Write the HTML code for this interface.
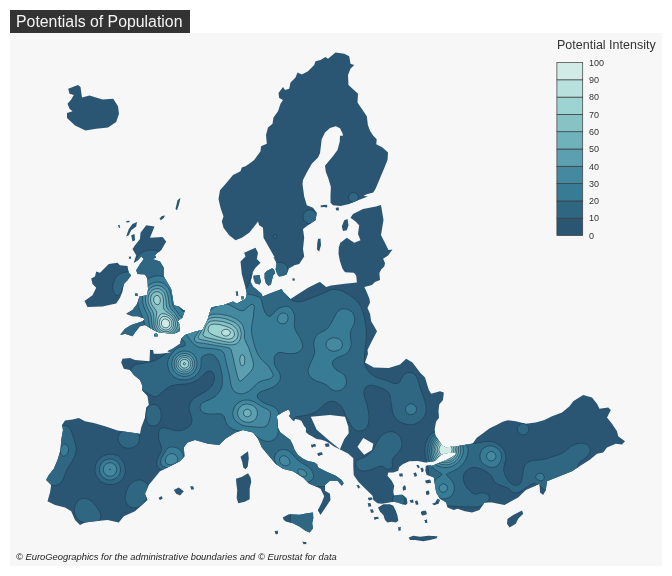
<!DOCTYPE html>
<html><head><meta charset="utf-8"><title>Potentials of Population</title>
<style>
html,body{margin:0;padding:0;background:#fff}
body{width:672px;height:576px;position:relative;overflow:hidden;font-family:"Liberation Sans",sans-serif}
#panel{position:absolute;left:10px;top:33px;width:652px;height:533px;background:#f7f7f7}
#title{position:absolute;left:10px;top:10px;width:180px;height:23px;background:#333;color:#f4f4f4;font-size:15.85px;line-height:23px;text-indent:6px;white-space:nowrap}
svg text{font-family:"Liberation Sans",sans-serif}
</style></head><body>
<div id="panel"></div>
<div id="title">Potentials of Population</div>
<svg width="672" height="576" viewBox="0 0 672 576" style="position:absolute;left:0;top:0">
<defs><clipPath id="land"><path clip-rule="evenodd" d="M67.0,113.0 L67.0,118.0 L75.0,125.5 L85.5,130.5 L96.2,128.8 L108.0,127.5 L116.2,122.0 L119.0,113.8 L118.0,106.2 L113.2,98.8 L102.5,99.5 L89.5,95.5 L82.0,97.5 L80.5,87.0 L78.0,85.0 L68.2,88.8 L69.5,93.8 L73.8,95.0 L71.2,99.5 L67.5,103.8 L69.5,108.8 L72.5,111.2Z M180.5,197.8 L177.5,200.2 L175.5,209.0 L177.0,210.2 L179.0,204.5Z M165.0,215.5 L162.0,216.0 L159.5,218.5 L160.8,220.2 L163.8,218.0Z M126.2,221.0 L126.5,222.5 L129.5,222.2 L129.5,220.8Z M118.0,225.2 L119.0,228.0 L120.2,227.5 L119.5,224.8Z M128.8,235.2 L131.2,230.2 L136.2,226.5 L137.0,222.0 L132.5,224.0 L128.8,229.0 L126.2,236.5Z M131.2,235.2 L132.5,241.5 L135.0,240.2 L134.5,234.0Z M129.8,256.8 L128.8,256.5 L129.0,257.8 L129.1,258.9 L129.9,258.7 L130.6,258.9 L131.0,257.8 L131.0,256.6Z M141.2,256.5 L143.8,259.0 L140.0,264.0 L136.2,270.2 L137.5,274.0 L145.0,274.5 L147.5,279.0 L148.0,289.0 L147.5,295.2 L139.5,296.5 L137.5,302.8 L135.0,307.8 L136.2,305.0 L132.5,310.0 L126.2,313.8 L132.5,316.2 L137.5,316.2 L145.0,318.8 L142.5,321.2 L131.2,325.0 L125.0,328.8 L120.0,335.0 L125.0,333.8 L132.5,336.2 L135.0,332.5 L140.0,326.2 L145.0,325.0 L152.5,329.5 L157.5,332.0 L165.0,333.0 L173.8,333.8 L179.5,331.2 L180.0,325.0 L177.5,321.2 L182.5,317.5 L185.0,310.0 L183.8,310.2 L178.8,306.5 L173.8,305.2 L172.5,296.5 L171.2,289.0 L167.5,282.8 L163.8,276.5 L163.8,267.8 L160.0,261.5 L152.5,259.0 L156.2,257.8 L155.0,255.2 L157.5,252.8 L161.2,250.2 L166.2,241.5 L162.5,237.0 L150.0,237.8 L154.5,226.5 L146.2,225.2 L140.5,232.8 L140.0,239.0 L135.0,245.2 L132.5,249.0 L136.2,255.2 L133.8,262.8 L138.0,260.2Z M102.5,306.5 L116.2,303.5 L120.0,297.8 L122.5,291.5 L123.8,284.0 L127.5,280.2 L131.2,275.2 L128.8,272.8 L127.5,266.0 L120.0,265.2 L117.5,262.8 L108.8,264.0 L100.0,272.8 L96.2,271.5 L95.0,276.5 L91.2,278.5 L92.5,284.0 L96.2,287.8 L92.5,295.2 L84.5,301.0 L87.5,307.0Z M235.7,291.6 L236.3,293.8 L236.4,295.9 L237.5,295.5 L238.2,295.4 L238.0,293.6 L237.8,291.4 L236.8,291.7Z M134.8,293.5 L135.2,294.8 L135.2,295.8 L136.5,296.1 L137.9,295.8 L137.5,294.8 L137.4,293.3 L136.2,293.5Z M241.0,296.4 L241.6,298.0 L241.7,299.7 L242.9,299.1 L244.3,299.3 L243.6,297.8 L243.4,296.2 L242.3,296.5Z M154.3,333.9 L154.2,335.0 L154.5,336.5 L156.0,336.2 L157.4,336.5 L157.9,335.0 L157.3,333.9 L156.0,333.6Z M180.0,343.8 L172.5,348.8 L167.5,351.2 L171.2,352.5 L160.0,353.8 L153.8,353.8 L153.0,350.0 L150.0,350.0 L149.5,361.2 L135.0,360.0 L130.0,358.0 L122.5,358.8 L121.2,362.5 L123.8,368.8 L130.0,370.0 L133.8,375.0 L140.0,380.0 L142.5,386.2 L142.0,390.0 L147.5,396.2 L148.8,405.0 L146.2,407.5 L145.0,417.5 L141.2,427.5 L140.0,433.8 L127.5,432.0 L117.5,430.5 L105.0,426.2 L93.8,423.0 L85.0,421.2 L78.8,418.0 L72.5,419.5 L65.0,420.5 L62.0,425.0 L63.0,430.0 L61.2,440.0 L60.5,450.0 L57.5,460.0 L53.8,468.8 L48.8,475.0 L46.2,480.0 L51.2,485.0 L50.0,492.5 L47.5,501.2 L55.0,505.0 L65.0,507.5 L71.2,511.2 L75.0,520.0 L80.0,525.0 L85.0,522.5 L95.0,521.2 L107.5,520.0 L118.8,522.5 L123.8,516.2 L135.0,511.2 L147.5,500.0 L145.0,493.8 L148.8,485.0 L160.0,471.2 L170.0,466.2 L180.0,461.2 L184.5,456.2 L183.8,447.5 L187.5,442.5 L195.0,440.0 L208.0,443.8 L219.2,445.0 L225.5,438.8 L235.5,432.5 L243.0,430.0 L253.0,432.5 L258.0,438.8 L261.8,447.5 L269.2,456.2 L275.5,463.8 L283.0,468.8 L293.0,471.2 L303.0,477.5 L309.2,483.8 L315.5,486.2 L320.5,488.8 L324.2,496.2 L321.8,502.5 L318.0,510.0 L320.5,515.0 L325.5,507.5 L330.5,500.0 L330.0,493.8 L325.0,490.8 L325.0,485.0 L330.0,480.8 L337.5,480.8 L341.7,485.8 L343.7,483.3 L341.7,480.0 L335.8,475.8 L326.7,471.7 L318.3,467.5 L316.7,462.5 L317.8,468.0 L316.5,464.1 L314.0,462.2 L307.8,461.0 L302.8,458.5 L297.8,454.8 L294.6,449.8 L292.8,444.8 L290.2,439.8 L285.2,436.0 L280.2,432.2 L277.8,427.2 L277.8,421.0 L276.5,416.0 L282.8,412.2 L287.8,409.8 L289.6,410.4 L290.2,414.1 L289.0,416.0 L292.1,419.8 L294.0,421.0 L295.2,419.1 L299.0,419.8 L301.5,421.0 L304.0,426.0 L305.9,427.9 L305.9,432.2 L309.0,434.8 L311.5,436.0 L316.5,439.1 L321.5,439.8 L325.2,441.0 L329.0,442.9 L334.0,446.6 L339.0,449.1 L348.0,453.5 L353.3,458.3 L353.3,466.7 L353.7,475.0 L358.3,481.7 L363.3,486.7 L369.2,492.5 L372.5,495.8 L373.3,500.0 L377.5,503.3 L381.7,503.7 L386.7,503.0 L393.3,501.7 L397.5,502.5 L402.5,504.2 L405.8,505.0 L407.5,503.3 L406.7,498.3 L402.5,494.7 L397.5,495.0 L394.2,495.8 L393.3,491.7 L394.2,485.8 L391.7,480.8 L387.5,475.8 L388.3,472.5 L393.3,472.5 L398.3,470.8 L399.1,467.2 L402.7,464.3 L409.3,461.3 L417.7,461.0 L425.2,462.5 L434.7,461.0 L437.5,458.0 L441.2,454.5 L446.0,453.2 L451.2,452.5 L453.6,452.6 L456.8,453.5 L452.7,456.8 L446.0,460.2 L439.3,462.7 L433.5,465.2 L431.3,465.9 L430.8,465.3 L425.8,465.8 L425.3,470.8 L426.7,475.0 L428.9,475.6 L433.8,477.5 L435.0,485.0 L436.2,492.5 L440.0,498.8 L446.2,502.5 L447.5,507.5 L453.8,510.0 L457.5,508.8 L465.0,511.2 L472.0,512.5 L479.5,510.0 L484.5,502.5 L492.0,502.5 L504.5,505.0 L518.2,497.5 L525.8,490.0 L534.5,486.2 L539.5,483.8 L540.0,492.5 L543.2,495.0 L545.8,490.0 L547.0,481.2 L559.5,476.2 L572.0,471.2 L579.5,466.2 L589.5,460.0 L597.0,453.8 L603.2,452.5 L607.0,447.5 L615.8,443.8 L622.0,444.5 L625.0,441.2 L618.2,436.2 L617.0,431.2 L612.0,423.8 L607.0,417.5 L610.8,410.0 L608.2,407.5 L599.5,408.8 L597.0,403.8 L592.0,397.5 L583.2,395.0 L573.2,401.2 L569.5,406.2 L562.0,412.5 L552.0,416.2 L544.5,420.0 L535.8,422.5 L525.8,423.8 L515.8,421.2 L508.0,420.2 L502.7,421.8 L496.0,425.2 L489.3,428.5 L482.7,433.5 L476.8,437.7 L472.7,443.5 L462.7,445.2 L454.3,446.8 L452.5,447.1 L452.0,446.5 L446.0,447.7 L441.8,445.2 L438.5,440.2 L435.2,435.2 L434.7,429.3 L436.0,421.8 L439.0,417.7 L438.5,411.0 L439.3,404.3 L439.4,404.3 L443.0,400.0 L443.8,392.5 L440.0,391.2 L431.2,393.8 L428.8,390.0 L425.0,377.5 L420.0,372.5 L412.5,362.5 L406.2,358.8 L400.0,364.5 L388.8,368.0 L373.8,367.5 L365.0,362.5 L368.0,353.8 L367.5,350.0 L371.2,342.5 L377.0,331.2 L371.2,321.2 L370.0,313.8 L367.5,308.1 L370.0,302.5 L369.4,298.8 L366.9,292.5 L364.4,286.9 L371.9,285.0 L375.0,281.9 L380.0,280.0 L379.4,273.1 L381.2,269.4 L384.4,266.2 L385.0,263.1 L383.1,258.8 L388.1,255.6 L392.5,249.4 L388.5,250.0 L381.0,235.0 L383.5,220.0 L381.0,205.0 L376.0,206.5 L363.0,209.0 L353.0,214.0 L350.5,217.8 L355.5,221.5 L359.2,225.2 L358.0,234.0 L360.5,240.2 L354.2,242.8 L346.8,237.8 L340.5,242.8 L341.2,240.0 L338.8,247.5 L338.5,253.8 L340.0,261.2 L342.5,268.8 L345.0,272.2 L353.8,272.8 L356.2,275.6 L356.9,282.5 L345.0,283.8 L331.2,285.6 L326.2,286.9 L320.0,281.9 L318.0,282.8 L308.0,287.8 L290.5,299.0 L283.0,291.5 L281.8,289.0 L271.8,292.8 L262.5,296.5 L261.8,294.0 L253.0,286.5 L250.5,281.5 L251.8,276.5 L253.0,271.5 L255.5,267.8 L260.5,262.8 L256.8,259.0 L258.0,252.8 L255.5,247.8 L244.2,252.8 L245.5,256.5 L240.5,261.5 L241.8,274.0 L245.5,287.8 L246.8,294.0 L245.5,299.0 L236.8,303.5 L233.0,301.5 L223.0,305.2 L215.5,306.5 L211.2,307.5 L207.5,320.0 L202.5,330.0 L196.2,331.2 L185.0,335.0 L181.2,338.8Z M345.0,416.7 L348.3,426.7 L348.7,433.3 L344.2,439.2 L341.7,445.0 L340.0,449.3 L330.0,441.3 L316.7,429.7 L310.8,416.7 L330.0,415.0Z M363.3,438.0 L373.3,443.7 L372.0,450.0 L364.2,454.7 L360.0,450.0 L357.5,446.7Z M242.2,461.7 L243.3,467.5 L245.5,469.2 L247.7,466.7 L248.8,458.3 L248.0,451.3 L240.5,456.7Z M190.1,486.3 L190.8,487.9 L191.4,489.7 L192.7,489.5 L194.0,489.2 L193.6,487.6 L193.1,486.2 L191.5,486.2Z M251.3,481.7 L250.5,477.5 L248.0,473.3 L242.2,476.7 L236.0,478.7 L236.3,483.3 L237.2,490.0 L236.7,498.3 L238.3,503.3 L244.7,501.7 L249.7,499.2 L249.7,488.3Z M183.8,491.2 L178.8,487.5 L173.8,490.0 L176.2,493.8 L180.0,495.5Z M158.8,497.7 L159.0,498.9 L160.1,500.1 L161.3,499.2 L162.5,498.9 L162.4,497.8 L161.8,496.3 L160.3,496.7Z M235.5,240.2 L241.8,237.8 L249.2,232.8 L254.2,226.5 L258.0,221.5 L259.2,225.2 L263.0,227.8 L263.5,237.8 L269.2,247.8 L274.7,257.5 L273.4,257.0 L276.5,263.2 L275.6,269.5 L277.1,273.9 L279.0,276.6 L282.8,276.0 L286.5,274.5 L289.0,268.2 L294.0,265.8 L293.4,265.5 L299.2,264.0 L304.2,256.5 L303.0,249.0 L304.2,237.8 L303.0,229.0 L308.0,225.2 L315.5,220.2 L316.8,212.8 L313.0,207.8 L306.8,205.2 L304.2,196.5 L302.5,184.0 L303.0,180.0 L306.8,172.5 L311.8,163.8 L318.0,157.5 L320.0,153.3 L320.8,146.7 L321.7,139.2 L325.0,132.5 L330.0,128.0 L335.8,126.3 L340.0,128.3 L342.5,133.3 L343.0,135.8 L340.0,135.8 L339.7,141.7 L337.5,150.0 L332.5,156.7 L328.3,161.7 L325.0,165.8 L325.8,171.7 L328.3,178.3 L330.8,186.7 L330.8,196.0 L330.0,189.0 L330.5,196.5 L330.5,202.8 L333.0,205.2 L340.5,206.0 L349.2,204.0 L358.0,200.2 L368.0,196.5 L363.3,196.0 L366.7,194.2 L373.3,192.5 L375.8,188.3 L380.0,178.3 L384.2,168.3 L387.5,160.0 L388.0,152.5 L382.5,147.5 L376.3,144.2 L376.7,139.2 L373.3,135.8 L370.0,130.8 L367.9,125.1 L366.8,116.2 L357.5,102.5 L358.0,93.8 L348.5,85.0 L348.0,75.0 L350.5,68.8 L354.2,65.0 L350.5,63.8 L349.2,56.2 L344.2,53.8 L335.5,52.5 L328.0,58.8 L325.5,57.0 L320.5,60.0 L315.5,61.2 L314.2,65.0 L308.0,71.2 L301.8,74.5 L297.5,72.5 L295.5,77.5 L290.5,82.5 L289.2,88.8 L285.0,90.0 L283.0,87.0 L278.5,93.0 L279.2,98.0 L283.0,100.0 L280.5,103.8 L278.0,111.2 L273.5,117.5 L272.5,123.8 L268.0,127.5 L266.0,135.0 L266.8,143.8 L261.0,146.2 L260.5,151.2 L254.2,160.0 L249.2,163.8 L245.5,166.2 L241.8,167.5 L240.5,171.2 L233.0,175.0 L225.5,184.0 L220.0,190.2 L218.5,199.0 L220.5,207.8 L223.5,216.5 L221.8,221.5 L223.5,227.8 L229.2,235.2Z M320.5,205.5 L320.8,206.2 L320.8,207.3 L323.8,207.0 L326.8,207.4 L327.5,206.1 L326.6,204.8 L323.6,204.9Z M335.8,208.0 L335.8,209.0 L336.2,210.3 L337.5,210.4 L338.5,210.7 L338.9,209.1 L338.7,207.5 L337.2,207.6Z M343.0,231.0 L346.8,230.2 L348.5,225.2 L347.5,219.0 L344.2,220.2 L341.8,226.5Z M317.0,249.5 L319.2,251.5 L321.0,245.2 L320.5,238.5 L318.0,239.0 L317.2,244.0Z M274.0,269.5 L272.1,268.2 L267.1,270.8 L264.6,273.2 L264.6,278.2 L265.9,283.2 L268.4,285.8 L270.9,284.5 L272.1,279.5 L273.4,275.1 L275.2,273.2Z M292.2,278.6 L292.4,279.6 L292.9,281.0 L293.9,280.6 L295.1,280.3 L294.5,279.1 L294.3,277.9 L293.3,278.5Z M255.2,283.2 L259.6,284.5 L260.9,282.0 L259.6,275.1 L253.4,275.8 L253.8,279.5Z M326.5,443.6 L324.5,444.2 L325.6,445.7 L325.6,447.1 L327.4,446.7 L329.5,446.5 L329.3,444.9 L328.6,443.3Z M310.9,444.7 L311.5,445.9 L311.8,447.4 L313.7,446.8 L316.0,446.4 L315.7,445.1 L315.1,443.8 L312.9,444.5Z M317.7,453.2 L317.7,454.5 L318.1,455.7 L320.3,455.2 L322.6,454.8 L322.5,453.5 L321.8,452.2 L319.5,452.6Z M356.3,485.0 L357.4,486.8 L358.2,488.7 L359.0,487.8 L360.5,487.5 L359.4,486.2 L358.5,484.6 L357.7,485.2Z M368.0,497.8 L368.2,499.3 L369.1,500.5 L370.8,499.9 L372.5,499.6 L372.4,498.5 L371.9,497.5 L369.8,497.6Z M367.6,503.5 L368.3,505.3 L368.3,506.9 L369.6,506.5 L371.2,506.5 L370.9,504.6 L370.6,503.2 L368.9,503.0Z M369.8,509.6 L370.7,511.2 L370.9,512.7 L372.5,512.8 L373.9,512.2 L373.2,510.5 L372.8,509.2 L371.4,509.5Z M376.0,516.9 L373.8,517.2 L374.0,518.6 L374.7,519.9 L376.6,519.0 L378.7,519.0 L378.4,517.7 L378.2,516.8Z M312.2,523.3 L313.3,518.3 L313.0,512.5 L307.2,513.3 L299.7,514.7 L288.8,514.2 L282.7,517.5 L283.8,520.0 L286.3,521.7 L293.0,523.3 L299.7,526.7 L305.5,530.8 L309.7,532.5 L313.0,528.3Z M274.7,530.9 L275.1,532.8 L275.7,534.2 L276.9,534.3 L277.8,533.8 L278.1,532.3 L277.5,530.6 L276.2,531.0Z M302.4,541.5 L302.9,542.9 L303.7,544.3 L305.0,544.1 L306.5,544.2 L306.3,543.0 L306.2,541.9 L304.3,542.0Z M416.2,465.2 L417.4,466.9 L418.0,468.5 L418.8,467.7 L419.8,467.5 L419.3,466.3 L418.5,465.0 L417.4,465.0Z M420.3,468.2 L421.1,470.0 L421.4,472.2 L422.8,471.9 L423.7,470.8 L423.4,469.1 L422.4,467.6 L421.5,468.1Z M413.2,473.1 L414.2,475.1 L414.4,476.8 L415.9,476.5 L417.1,475.8 L416.5,474.1 L416.0,472.3 L414.6,473.1Z M399.3,473.6 L399.2,475.2 L400.0,476.7 L401.5,476.3 L403.1,476.4 L402.6,474.8 L402.5,473.3 L400.9,473.6Z M425.2,480.4 L425.5,482.2 L426.7,483.4 L428.8,483.1 L431.2,482.7 L430.5,481.1 L430.0,479.7 L427.4,479.9Z M402.6,487.4 L402.8,489.2 L403.4,491.0 L404.6,490.0 L405.8,490.0 L405.9,487.5 L405.1,485.3 L403.8,485.8Z M425.9,491.6 L426.0,493.4 L426.5,495.1 L427.9,494.7 L429.1,494.6 L429.3,492.7 L428.7,490.8 L427.3,490.7Z M409.5,500.2 L410.2,501.6 L410.8,502.7 L412.3,502.8 L413.7,502.4 L413.3,500.9 L413.2,499.5 L411.3,500.0Z M432.0,503.7 L434.2,505.3 L438.3,503.7 L440.0,500.0 L437.5,498.7 L435.3,502.5Z M414.9,501.5 L415.5,503.2 L415.9,504.8 L417.4,504.8 L418.5,504.3 L418.0,502.6 L417.5,500.7 L416.2,500.6Z M420.9,511.7 L421.0,513.6 L422.1,515.5 L424.5,515.2 L426.9,513.9 L426.6,512.4 L425.9,510.7 L423.3,510.7Z M397.5,515.8 L395.8,510.8 L393.3,505.8 L390.0,504.2 L383.3,504.2 L378.0,507.5 L380.0,511.7 L383.3,515.0 L385.0,520.0 L387.5,522.5 L391.7,521.7 L395.8,522.5 L398.3,520.8Z M507.5,518.8 L507.0,523.8 L509.5,527.5 L515.8,523.8 L518.2,518.8 L523.2,513.8 L522.0,510.5 L513.2,515.0Z M424.1,519.9 L425.0,521.6 L425.1,523.1 L426.5,522.9 L427.5,522.5 L427.1,521.0 L427.1,518.9 L425.7,519.9Z M398.1,526.9 L398.3,529.0 L398.6,531.0 L399.9,530.5 L400.9,530.3 L400.6,528.5 L400.9,526.7 L399.5,527.3Z M420.0,536.7 L413.3,535.8 L408.7,537.5 L410.0,540.0 L415.0,540.0 L423.3,541.3 L430.0,540.0 L436.7,538.3 L437.5,536.3 L428.3,535.8Z "/></clipPath></defs>
<path fill="#2a5674" fill-rule="evenodd" d="M67.0,113.0 L67.0,118.0 L75.0,125.5 L85.5,130.5 L96.2,128.8 L108.0,127.5 L116.2,122.0 L119.0,113.8 L118.0,106.2 L113.2,98.8 L102.5,99.5 L89.5,95.5 L82.0,97.5 L80.5,87.0 L78.0,85.0 L68.2,88.8 L69.5,93.8 L73.8,95.0 L71.2,99.5 L67.5,103.8 L69.5,108.8 L72.5,111.2Z M180.5,197.8 L177.5,200.2 L175.5,209.0 L177.0,210.2 L179.0,204.5Z M165.0,215.5 L162.0,216.0 L159.5,218.5 L160.8,220.2 L163.8,218.0Z M126.2,221.0 L126.5,222.5 L129.5,222.2 L129.5,220.8Z M118.0,225.2 L119.0,228.0 L120.2,227.5 L119.5,224.8Z M128.8,235.2 L131.2,230.2 L136.2,226.5 L137.0,222.0 L132.5,224.0 L128.8,229.0 L126.2,236.5Z M131.2,235.2 L132.5,241.5 L135.0,240.2 L134.5,234.0Z M129.8,256.8 L128.8,256.5 L129.0,257.8 L129.1,258.9 L129.9,258.7 L130.6,258.9 L131.0,257.8 L131.0,256.6Z M141.2,256.5 L143.8,259.0 L140.0,264.0 L136.2,270.2 L137.5,274.0 L145.0,274.5 L147.5,279.0 L148.0,289.0 L147.5,295.2 L139.5,296.5 L137.5,302.8 L135.0,307.8 L136.2,305.0 L132.5,310.0 L126.2,313.8 L132.5,316.2 L137.5,316.2 L145.0,318.8 L142.5,321.2 L131.2,325.0 L125.0,328.8 L120.0,335.0 L125.0,333.8 L132.5,336.2 L135.0,332.5 L140.0,326.2 L145.0,325.0 L152.5,329.5 L157.5,332.0 L165.0,333.0 L173.8,333.8 L179.5,331.2 L180.0,325.0 L177.5,321.2 L182.5,317.5 L185.0,310.0 L183.8,310.2 L178.8,306.5 L173.8,305.2 L172.5,296.5 L171.2,289.0 L167.5,282.8 L163.8,276.5 L163.8,267.8 L160.0,261.5 L152.5,259.0 L156.2,257.8 L155.0,255.2 L157.5,252.8 L161.2,250.2 L166.2,241.5 L162.5,237.0 L150.0,237.8 L154.5,226.5 L146.2,225.2 L140.5,232.8 L140.0,239.0 L135.0,245.2 L132.5,249.0 L136.2,255.2 L133.8,262.8 L138.0,260.2Z M102.5,306.5 L116.2,303.5 L120.0,297.8 L122.5,291.5 L123.8,284.0 L127.5,280.2 L131.2,275.2 L128.8,272.8 L127.5,266.0 L120.0,265.2 L117.5,262.8 L108.8,264.0 L100.0,272.8 L96.2,271.5 L95.0,276.5 L91.2,278.5 L92.5,284.0 L96.2,287.8 L92.5,295.2 L84.5,301.0 L87.5,307.0Z M235.7,291.6 L236.3,293.8 L236.4,295.9 L237.5,295.5 L238.2,295.4 L238.0,293.6 L237.8,291.4 L236.8,291.7Z M134.8,293.5 L135.2,294.8 L135.2,295.8 L136.5,296.1 L137.9,295.8 L137.5,294.8 L137.4,293.3 L136.2,293.5Z M241.0,296.4 L241.6,298.0 L241.7,299.7 L242.9,299.1 L244.3,299.3 L243.6,297.8 L243.4,296.2 L242.3,296.5Z M154.3,333.9 L154.2,335.0 L154.5,336.5 L156.0,336.2 L157.4,336.5 L157.9,335.0 L157.3,333.9 L156.0,333.6Z M180.0,343.8 L172.5,348.8 L167.5,351.2 L171.2,352.5 L160.0,353.8 L153.8,353.8 L153.0,350.0 L150.0,350.0 L149.5,361.2 L135.0,360.0 L130.0,358.0 L122.5,358.8 L121.2,362.5 L123.8,368.8 L130.0,370.0 L133.8,375.0 L140.0,380.0 L142.5,386.2 L142.0,390.0 L147.5,396.2 L148.8,405.0 L146.2,407.5 L145.0,417.5 L141.2,427.5 L140.0,433.8 L127.5,432.0 L117.5,430.5 L105.0,426.2 L93.8,423.0 L85.0,421.2 L78.8,418.0 L72.5,419.5 L65.0,420.5 L62.0,425.0 L63.0,430.0 L61.2,440.0 L60.5,450.0 L57.5,460.0 L53.8,468.8 L48.8,475.0 L46.2,480.0 L51.2,485.0 L50.0,492.5 L47.5,501.2 L55.0,505.0 L65.0,507.5 L71.2,511.2 L75.0,520.0 L80.0,525.0 L85.0,522.5 L95.0,521.2 L107.5,520.0 L118.8,522.5 L123.8,516.2 L135.0,511.2 L147.5,500.0 L145.0,493.8 L148.8,485.0 L160.0,471.2 L170.0,466.2 L180.0,461.2 L184.5,456.2 L183.8,447.5 L187.5,442.5 L195.0,440.0 L208.0,443.8 L219.2,445.0 L225.5,438.8 L235.5,432.5 L243.0,430.0 L253.0,432.5 L258.0,438.8 L261.8,447.5 L269.2,456.2 L275.5,463.8 L283.0,468.8 L293.0,471.2 L303.0,477.5 L309.2,483.8 L315.5,486.2 L320.5,488.8 L324.2,496.2 L321.8,502.5 L318.0,510.0 L320.5,515.0 L325.5,507.5 L330.5,500.0 L330.0,493.8 L325.0,490.8 L325.0,485.0 L330.0,480.8 L337.5,480.8 L341.7,485.8 L343.7,483.3 L341.7,480.0 L335.8,475.8 L326.7,471.7 L318.3,467.5 L316.7,462.5 L317.8,468.0 L316.5,464.1 L314.0,462.2 L307.8,461.0 L302.8,458.5 L297.8,454.8 L294.6,449.8 L292.8,444.8 L290.2,439.8 L285.2,436.0 L280.2,432.2 L277.8,427.2 L277.8,421.0 L276.5,416.0 L282.8,412.2 L287.8,409.8 L289.6,410.4 L290.2,414.1 L289.0,416.0 L292.1,419.8 L294.0,421.0 L295.2,419.1 L299.0,419.8 L301.5,421.0 L304.0,426.0 L305.9,427.9 L305.9,432.2 L309.0,434.8 L311.5,436.0 L316.5,439.1 L321.5,439.8 L325.2,441.0 L329.0,442.9 L334.0,446.6 L339.0,449.1 L348.0,453.5 L353.3,458.3 L353.3,466.7 L353.7,475.0 L358.3,481.7 L363.3,486.7 L369.2,492.5 L372.5,495.8 L373.3,500.0 L377.5,503.3 L381.7,503.7 L386.7,503.0 L393.3,501.7 L397.5,502.5 L402.5,504.2 L405.8,505.0 L407.5,503.3 L406.7,498.3 L402.5,494.7 L397.5,495.0 L394.2,495.8 L393.3,491.7 L394.2,485.8 L391.7,480.8 L387.5,475.8 L388.3,472.5 L393.3,472.5 L398.3,470.8 L399.1,467.2 L402.7,464.3 L409.3,461.3 L417.7,461.0 L425.2,462.5 L434.7,461.0 L437.5,458.0 L441.2,454.5 L446.0,453.2 L451.2,452.5 L453.6,452.6 L456.8,453.5 L452.7,456.8 L446.0,460.2 L439.3,462.7 L433.5,465.2 L431.3,465.9 L430.8,465.3 L425.8,465.8 L425.3,470.8 L426.7,475.0 L428.9,475.6 L433.8,477.5 L435.0,485.0 L436.2,492.5 L440.0,498.8 L446.2,502.5 L447.5,507.5 L453.8,510.0 L457.5,508.8 L465.0,511.2 L472.0,512.5 L479.5,510.0 L484.5,502.5 L492.0,502.5 L504.5,505.0 L518.2,497.5 L525.8,490.0 L534.5,486.2 L539.5,483.8 L540.0,492.5 L543.2,495.0 L545.8,490.0 L547.0,481.2 L559.5,476.2 L572.0,471.2 L579.5,466.2 L589.5,460.0 L597.0,453.8 L603.2,452.5 L607.0,447.5 L615.8,443.8 L622.0,444.5 L625.0,441.2 L618.2,436.2 L617.0,431.2 L612.0,423.8 L607.0,417.5 L610.8,410.0 L608.2,407.5 L599.5,408.8 L597.0,403.8 L592.0,397.5 L583.2,395.0 L573.2,401.2 L569.5,406.2 L562.0,412.5 L552.0,416.2 L544.5,420.0 L535.8,422.5 L525.8,423.8 L515.8,421.2 L508.0,420.2 L502.7,421.8 L496.0,425.2 L489.3,428.5 L482.7,433.5 L476.8,437.7 L472.7,443.5 L462.7,445.2 L454.3,446.8 L452.5,447.1 L452.0,446.5 L446.0,447.7 L441.8,445.2 L438.5,440.2 L435.2,435.2 L434.7,429.3 L436.0,421.8 L439.0,417.7 L438.5,411.0 L439.3,404.3 L439.4,404.3 L443.0,400.0 L443.8,392.5 L440.0,391.2 L431.2,393.8 L428.8,390.0 L425.0,377.5 L420.0,372.5 L412.5,362.5 L406.2,358.8 L400.0,364.5 L388.8,368.0 L373.8,367.5 L365.0,362.5 L368.0,353.8 L367.5,350.0 L371.2,342.5 L377.0,331.2 L371.2,321.2 L370.0,313.8 L367.5,308.1 L370.0,302.5 L369.4,298.8 L366.9,292.5 L364.4,286.9 L371.9,285.0 L375.0,281.9 L380.0,280.0 L379.4,273.1 L381.2,269.4 L384.4,266.2 L385.0,263.1 L383.1,258.8 L388.1,255.6 L392.5,249.4 L388.5,250.0 L381.0,235.0 L383.5,220.0 L381.0,205.0 L376.0,206.5 L363.0,209.0 L353.0,214.0 L350.5,217.8 L355.5,221.5 L359.2,225.2 L358.0,234.0 L360.5,240.2 L354.2,242.8 L346.8,237.8 L340.5,242.8 L341.2,240.0 L338.8,247.5 L338.5,253.8 L340.0,261.2 L342.5,268.8 L345.0,272.2 L353.8,272.8 L356.2,275.6 L356.9,282.5 L345.0,283.8 L331.2,285.6 L326.2,286.9 L320.0,281.9 L318.0,282.8 L308.0,287.8 L290.5,299.0 L283.0,291.5 L281.8,289.0 L271.8,292.8 L262.5,296.5 L261.8,294.0 L253.0,286.5 L250.5,281.5 L251.8,276.5 L253.0,271.5 L255.5,267.8 L260.5,262.8 L256.8,259.0 L258.0,252.8 L255.5,247.8 L244.2,252.8 L245.5,256.5 L240.5,261.5 L241.8,274.0 L245.5,287.8 L246.8,294.0 L245.5,299.0 L236.8,303.5 L233.0,301.5 L223.0,305.2 L215.5,306.5 L211.2,307.5 L207.5,320.0 L202.5,330.0 L196.2,331.2 L185.0,335.0 L181.2,338.8Z M345.0,416.7 L348.3,426.7 L348.7,433.3 L344.2,439.2 L341.7,445.0 L340.0,449.3 L330.0,441.3 L316.7,429.7 L310.8,416.7 L330.0,415.0Z M363.3,438.0 L373.3,443.7 L372.0,450.0 L364.2,454.7 L360.0,450.0 L357.5,446.7Z M242.2,461.7 L243.3,467.5 L245.5,469.2 L247.7,466.7 L248.8,458.3 L248.0,451.3 L240.5,456.7Z M190.1,486.3 L190.8,487.9 L191.4,489.7 L192.7,489.5 L194.0,489.2 L193.6,487.6 L193.1,486.2 L191.5,486.2Z M251.3,481.7 L250.5,477.5 L248.0,473.3 L242.2,476.7 L236.0,478.7 L236.3,483.3 L237.2,490.0 L236.7,498.3 L238.3,503.3 L244.7,501.7 L249.7,499.2 L249.7,488.3Z M183.8,491.2 L178.8,487.5 L173.8,490.0 L176.2,493.8 L180.0,495.5Z M158.8,497.7 L159.0,498.9 L160.1,500.1 L161.3,499.2 L162.5,498.9 L162.4,497.8 L161.8,496.3 L160.3,496.7Z M235.5,240.2 L241.8,237.8 L249.2,232.8 L254.2,226.5 L258.0,221.5 L259.2,225.2 L263.0,227.8 L263.5,237.8 L269.2,247.8 L274.7,257.5 L273.4,257.0 L276.5,263.2 L275.6,269.5 L277.1,273.9 L279.0,276.6 L282.8,276.0 L286.5,274.5 L289.0,268.2 L294.0,265.8 L293.4,265.5 L299.2,264.0 L304.2,256.5 L303.0,249.0 L304.2,237.8 L303.0,229.0 L308.0,225.2 L315.5,220.2 L316.8,212.8 L313.0,207.8 L306.8,205.2 L304.2,196.5 L302.5,184.0 L303.0,180.0 L306.8,172.5 L311.8,163.8 L318.0,157.5 L320.0,153.3 L320.8,146.7 L321.7,139.2 L325.0,132.5 L330.0,128.0 L335.8,126.3 L340.0,128.3 L342.5,133.3 L343.0,135.8 L340.0,135.8 L339.7,141.7 L337.5,150.0 L332.5,156.7 L328.3,161.7 L325.0,165.8 L325.8,171.7 L328.3,178.3 L330.8,186.7 L330.8,196.0 L330.0,189.0 L330.5,196.5 L330.5,202.8 L333.0,205.2 L340.5,206.0 L349.2,204.0 L358.0,200.2 L368.0,196.5 L363.3,196.0 L366.7,194.2 L373.3,192.5 L375.8,188.3 L380.0,178.3 L384.2,168.3 L387.5,160.0 L388.0,152.5 L382.5,147.5 L376.3,144.2 L376.7,139.2 L373.3,135.8 L370.0,130.8 L367.9,125.1 L366.8,116.2 L357.5,102.5 L358.0,93.8 L348.5,85.0 L348.0,75.0 L350.5,68.8 L354.2,65.0 L350.5,63.8 L349.2,56.2 L344.2,53.8 L335.5,52.5 L328.0,58.8 L325.5,57.0 L320.5,60.0 L315.5,61.2 L314.2,65.0 L308.0,71.2 L301.8,74.5 L297.5,72.5 L295.5,77.5 L290.5,82.5 L289.2,88.8 L285.0,90.0 L283.0,87.0 L278.5,93.0 L279.2,98.0 L283.0,100.0 L280.5,103.8 L278.0,111.2 L273.5,117.5 L272.5,123.8 L268.0,127.5 L266.0,135.0 L266.8,143.8 L261.0,146.2 L260.5,151.2 L254.2,160.0 L249.2,163.8 L245.5,166.2 L241.8,167.5 L240.5,171.2 L233.0,175.0 L225.5,184.0 L220.0,190.2 L218.5,199.0 L220.5,207.8 L223.5,216.5 L221.8,221.5 L223.5,227.8 L229.2,235.2Z M320.5,205.5 L320.8,206.2 L320.8,207.3 L323.8,207.0 L326.8,207.4 L327.5,206.1 L326.6,204.8 L323.6,204.9Z M335.8,208.0 L335.8,209.0 L336.2,210.3 L337.5,210.4 L338.5,210.7 L338.9,209.1 L338.7,207.5 L337.2,207.6Z M343.0,231.0 L346.8,230.2 L348.5,225.2 L347.5,219.0 L344.2,220.2 L341.8,226.5Z M317.0,249.5 L319.2,251.5 L321.0,245.2 L320.5,238.5 L318.0,239.0 L317.2,244.0Z M274.0,269.5 L272.1,268.2 L267.1,270.8 L264.6,273.2 L264.6,278.2 L265.9,283.2 L268.4,285.8 L270.9,284.5 L272.1,279.5 L273.4,275.1 L275.2,273.2Z M292.2,278.6 L292.4,279.6 L292.9,281.0 L293.9,280.6 L295.1,280.3 L294.5,279.1 L294.3,277.9 L293.3,278.5Z M255.2,283.2 L259.6,284.5 L260.9,282.0 L259.6,275.1 L253.4,275.8 L253.8,279.5Z M326.5,443.6 L324.5,444.2 L325.6,445.7 L325.6,447.1 L327.4,446.7 L329.5,446.5 L329.3,444.9 L328.6,443.3Z M310.9,444.7 L311.5,445.9 L311.8,447.4 L313.7,446.8 L316.0,446.4 L315.7,445.1 L315.1,443.8 L312.9,444.5Z M317.7,453.2 L317.7,454.5 L318.1,455.7 L320.3,455.2 L322.6,454.8 L322.5,453.5 L321.8,452.2 L319.5,452.6Z M356.3,485.0 L357.4,486.8 L358.2,488.7 L359.0,487.8 L360.5,487.5 L359.4,486.2 L358.5,484.6 L357.7,485.2Z M368.0,497.8 L368.2,499.3 L369.1,500.5 L370.8,499.9 L372.5,499.6 L372.4,498.5 L371.9,497.5 L369.8,497.6Z M367.6,503.5 L368.3,505.3 L368.3,506.9 L369.6,506.5 L371.2,506.5 L370.9,504.6 L370.6,503.2 L368.9,503.0Z M369.8,509.6 L370.7,511.2 L370.9,512.7 L372.5,512.8 L373.9,512.2 L373.2,510.5 L372.8,509.2 L371.4,509.5Z M376.0,516.9 L373.8,517.2 L374.0,518.6 L374.7,519.9 L376.6,519.0 L378.7,519.0 L378.4,517.7 L378.2,516.8Z M312.2,523.3 L313.3,518.3 L313.0,512.5 L307.2,513.3 L299.7,514.7 L288.8,514.2 L282.7,517.5 L283.8,520.0 L286.3,521.7 L293.0,523.3 L299.7,526.7 L305.5,530.8 L309.7,532.5 L313.0,528.3Z M274.7,530.9 L275.1,532.8 L275.7,534.2 L276.9,534.3 L277.8,533.8 L278.1,532.3 L277.5,530.6 L276.2,531.0Z M302.4,541.5 L302.9,542.9 L303.7,544.3 L305.0,544.1 L306.5,544.2 L306.3,543.0 L306.2,541.9 L304.3,542.0Z M416.2,465.2 L417.4,466.9 L418.0,468.5 L418.8,467.7 L419.8,467.5 L419.3,466.3 L418.5,465.0 L417.4,465.0Z M420.3,468.2 L421.1,470.0 L421.4,472.2 L422.8,471.9 L423.7,470.8 L423.4,469.1 L422.4,467.6 L421.5,468.1Z M413.2,473.1 L414.2,475.1 L414.4,476.8 L415.9,476.5 L417.1,475.8 L416.5,474.1 L416.0,472.3 L414.6,473.1Z M399.3,473.6 L399.2,475.2 L400.0,476.7 L401.5,476.3 L403.1,476.4 L402.6,474.8 L402.5,473.3 L400.9,473.6Z M425.2,480.4 L425.5,482.2 L426.7,483.4 L428.8,483.1 L431.2,482.7 L430.5,481.1 L430.0,479.7 L427.4,479.9Z M402.6,487.4 L402.8,489.2 L403.4,491.0 L404.6,490.0 L405.8,490.0 L405.9,487.5 L405.1,485.3 L403.8,485.8Z M425.9,491.6 L426.0,493.4 L426.5,495.1 L427.9,494.7 L429.1,494.6 L429.3,492.7 L428.7,490.8 L427.3,490.7Z M409.5,500.2 L410.2,501.6 L410.8,502.7 L412.3,502.8 L413.7,502.4 L413.3,500.9 L413.2,499.5 L411.3,500.0Z M432.0,503.7 L434.2,505.3 L438.3,503.7 L440.0,500.0 L437.5,498.7 L435.3,502.5Z M414.9,501.5 L415.5,503.2 L415.9,504.8 L417.4,504.8 L418.5,504.3 L418.0,502.6 L417.5,500.7 L416.2,500.6Z M420.9,511.7 L421.0,513.6 L422.1,515.5 L424.5,515.2 L426.9,513.9 L426.6,512.4 L425.9,510.7 L423.3,510.7Z M397.5,515.8 L395.8,510.8 L393.3,505.8 L390.0,504.2 L383.3,504.2 L378.0,507.5 L380.0,511.7 L383.3,515.0 L385.0,520.0 L387.5,522.5 L391.7,521.7 L395.8,522.5 L398.3,520.8Z M507.5,518.8 L507.0,523.8 L509.5,527.5 L515.8,523.8 L518.2,518.8 L523.2,513.8 L522.0,510.5 L513.2,515.0Z M424.1,519.9 L425.0,521.6 L425.1,523.1 L426.5,522.9 L427.5,522.5 L427.1,521.0 L427.1,518.9 L425.7,519.9Z M398.1,526.9 L398.3,529.0 L398.6,531.0 L399.9,530.5 L400.9,530.3 L400.6,528.5 L400.9,526.7 L399.5,527.3Z M420.0,536.7 L413.3,535.8 L408.7,537.5 L410.0,540.0 L415.0,540.0 L423.3,541.3 L430.0,540.0 L436.7,538.3 L437.5,536.3 L428.3,535.8Z "/>
<g clip-path="url(#land)" stroke="#1f3f55" stroke-width="0.7" stroke-opacity="1">
<path fill-rule="evenodd" fill="#2f6783" d="M351.5,193.0 353.0,192.6 354.0,192.6 355.5,193.0 357.0,194.0 357.7,195.0 358.2,196.0 358.4,198.0 357.7,200.0 357.0,201.0 356.0,201.7 355.0,202.2 353.0,202.4 351.0,201.7 350.0,201.0 349.3,200.0 348.8,199.0 348.6,197.0 349.0,195.5 350.0,194.0ZM308.3,210.0 310.0,209.8 311.0,209.9 312.0,210.1 313.9,211.0 315.0,211.9 315.9,213.0 316.8,215.0 317.0,216.0 316.9,218.0 316.2,220.0 314.7,222.0 313.3,223.0 312.0,223.5 311.0,223.7 309.0,223.7 307.0,223.1 305.0,221.7 304.0,220.4 303.3,219.0 303.1,218.0 303.0,216.0 303.2,215.0 304.0,213.2 304.9,212.0 306.0,211.0ZM273.9,235.0 275.0,234.7 276.1,235.0 276.8,236.0 276.8,237.0 276.0,238.1 275.0,238.3 273.9,238.0 273.2,237.0 273.2,236.0ZM145.4,251.0 149.0,250.2 152.0,250.0 155.0,250.3 158.0,251.0 163.0,252.8 167.4,255.0 171.0,257.0 172.4,258.0 174.0,259.4 175.2,261.0 177.0,264.1 191.0,293.5 193.0,298.0 194.3,303.0 194.8,304.0 196.0,305.3 197.0,305.8 198.0,306.0 200.0,305.8 210.9,302.0 233.0,292.1 236.0,291.3 242.0,290.6 243.8,290.0 245.0,289.4 246.6,288.0 248.0,286.0 249.3,283.0 251.9,276.0 253.0,273.3 254.4,271.0 256.0,269.4 257.0,268.7 259.0,267.9 266.0,266.3 273.0,263.5 276.0,262.7 278.0,262.4 281.0,262.5 284.0,263.3 286.0,264.7 287.0,266.0 287.4,267.0 288.1,270.0 287.9,272.0 287.6,273.0 286.0,276.0 282.3,281.0 281.6,283.0 281.6,284.0 282.0,285.0 285.1,289.0 288.1,297.0 289.7,299.0 292.0,300.5 294.0,301.2 297.0,301.8 300.0,301.8 302.0,301.4 305.0,300.4 320.0,294.6 330.0,290.2 333.0,289.4 336.0,289.4 339.2,290.0 343.0,291.4 348.0,294.0 351.0,296.0 354.6,299.0 357.0,301.3 359.0,303.6 360.0,305.2 361.3,308.0 363.0,312.3 364.1,316.0 365.0,320.5 366.0,327.5 366.5,333.0 366.0,341.5 364.5,356.0 364.3,361.0 364.5,363.0 364.9,365.0 365.6,367.0 366.7,369.0 368.2,371.0 370.1,373.0 373.0,375.4 376.0,377.3 379.0,378.5 387.0,380.5 393.0,383.2 395.0,383.7 397.0,383.6 398.0,383.2 399.0,382.5 400.2,381.0 403.0,375.8 404.7,374.0 406.0,373.2 408.0,372.6 410.0,372.5 412.0,372.9 414.0,373.9 415.0,374.9 416.0,376.2 417.0,378.0 417.9,380.0 420.5,389.0 423.9,398.0 425.1,402.0 426.0,406.2 426.2,410.0 425.7,413.0 424.6,416.0 423.0,418.3 420.0,421.2 417.0,423.1 415.0,424.0 413.0,424.6 410.0,424.9 407.0,424.5 403.0,423.3 400.2,422.0 398.0,420.5 396.0,418.6 394.7,417.0 393.7,415.0 393.0,413.0 392.0,408.9 390.4,397.0 389.9,395.0 388.8,393.0 386.9,391.0 385.0,389.7 383.0,388.7 375.0,385.8 373.0,385.3 371.0,385.2 369.0,385.4 368.0,385.7 366.0,387.0 364.6,389.0 364.0,391.0 363.9,393.0 364.3,396.0 367.0,405.0 368.2,410.0 368.9,415.0 369.0,419.0 368.6,423.0 367.6,426.0 367.0,427.1 366.0,428.3 365.0,429.2 363.0,430.3 360.0,431.0 358.0,430.9 356.0,430.3 354.0,428.9 352.0,426.5 347.0,418.6 346.0,416.5 344.0,411.0 341.7,407.0 340.0,405.0 338.0,403.4 336.0,402.2 334.0,401.5 333.0,401.3 331.0,401.4 329.0,401.9 327.0,402.8 324.0,404.8 318.0,410.3 315.0,412.2 311.1,414.0 307.0,415.1 297.0,416.7 295.9,417.0 295.0,417.5 294.5,418.0 294.0,419.0 293.9,420.0 294.6,422.0 295.7,424.0 318.0,453.7 322.0,458.0 342.1,476.0 344.9,479.0 345.5,480.0 346.1,482.0 345.8,485.0 345.1,487.0 344.5,488.0 343.3,489.0 342.0,489.4 340.0,489.3 335.0,488.1 331.0,487.4 323.0,486.5 317.0,486.5 311.0,487.4 308.0,487.4 305.0,486.7 300.0,484.5 295.0,481.7 288.0,476.5 280.0,471.6 277.0,469.3 274.5,467.0 269.0,461.1 263.0,455.3 256.0,446.9 254.8,446.0 253.0,445.0 250.0,444.4 239.0,444.3 237.0,444.4 235.0,444.9 233.0,446.1 230.7,449.0 229.7,450.0 228.0,450.8 227.0,451.0 223.0,451.2 197.0,451.3 194.0,451.4 192.0,451.9 190.1,453.0 189.0,454.3 188.2,456.0 186.5,461.0 184.7,464.0 182.0,466.7 180.0,468.3 178.0,469.6 176.0,470.5 174.0,471.2 172.0,471.5 170.0,471.6 167.0,471.3 164.0,470.6 160.0,469.2 158.4,468.0 157.6,467.0 156.7,465.0 156.5,463.0 156.8,461.0 157.4,459.0 160.9,452.0 161.6,450.0 161.7,449.0 161.4,447.0 159.0,440.0 158.5,437.0 158.6,433.0 159.0,431.1 159.5,430.0 160.0,429.2 161.0,428.4 162.1,428.0 164.0,427.8 167.0,428.3 171.0,429.6 174.0,430.3 177.0,430.7 180.0,430.6 182.0,430.3 185.0,429.2 188.0,427.4 189.7,426.0 191.2,424.0 191.6,423.0 192.0,421.0 191.8,418.0 189.8,412.0 189.2,409.0 189.2,407.0 189.5,405.0 190.7,402.0 192.1,400.0 195.0,397.4 204.0,392.5 207.0,390.4 210.0,387.8 211.6,386.0 213.3,383.0 214.3,380.0 214.4,377.0 214.1,375.0 213.7,374.0 213.0,372.9 212.1,372.0 211.0,371.3 210.0,371.0 208.0,371.1 207.0,371.5 205.1,373.0 202.0,376.4 200.0,378.3 198.0,379.7 195.0,381.4 192.0,382.7 189.0,383.5 186.0,383.9 175.0,384.9 173.0,385.3 171.0,385.9 169.0,386.9 166.0,388.9 158.0,395.8 156.0,396.7 155.0,396.8 153.0,396.3 148.0,393.5 141.0,390.4 139.0,389.1 137.0,387.4 134.0,384.4 130.9,381.0 129.4,379.0 128.7,377.0 128.6,376.0 129.0,374.0 130.0,371.5 131.8,368.0 133.0,366.4 134.0,365.5 135.0,364.9 137.0,364.3 146.0,362.7 151.0,361.7 154.0,360.8 157.0,359.6 161.0,357.2 165.3,354.0 167.0,352.3 168.0,351.0 168.8,349.0 168.6,348.0 167.6,347.0 166.0,346.5 164.0,346.2 146.0,344.5 126.0,344.2 123.0,344.0 122.0,343.7 120.7,343.0 119.9,342.0 119.5,341.0 119.0,338.0 119.1,334.0 119.4,331.0 119.9,329.0 121.0,326.3 129.6,308.0 131.2,304.0 132.2,301.0 132.7,297.0 133.3,287.0 133.2,284.0 132.7,282.0 132.0,281.0 131.0,280.3 130.0,280.2 129.0,280.3 127.0,281.3 125.2,283.0 123.8,285.0 122.4,288.0 121.0,292.0 120.0,294.0 119.0,295.0 118.0,295.4 117.0,295.5 116.0,295.1 114.7,294.0 114.0,292.9 113.3,291.0 112.9,289.0 112.8,287.0 113.0,285.0 113.4,283.0 114.5,280.0 115.6,278.0 117.2,276.0 119.6,274.0 121.0,273.2 123.0,272.6 128.0,271.7 130.0,271.2 132.0,270.0 132.8,269.0 133.3,268.0 135.0,261.1 135.9,259.0 137.1,257.0 139.0,254.7 141.0,253.0 143.0,251.9ZM150.8,405.0 152.0,404.5 154.0,404.4 156.0,404.9 157.0,405.4 158.0,406.2 159.4,408.0 160.4,410.0 161.0,412.0 161.2,414.0 161.2,417.0 160.8,419.0 160.1,421.0 159.0,423.0 158.0,424.2 156.9,425.0 155.0,425.7 153.0,425.9 152.0,425.8 150.0,425.1 149.0,424.5 148.0,423.5 147.0,422.0 146.0,419.0 145.7,417.0 145.7,414.0 146.0,412.0 146.6,410.0 147.6,408.0 148.3,407.0 149.3,406.0ZM520.7,424.0 522.0,423.6 523.0,423.5 525.0,423.8 527.0,425.0 528.0,426.2 528.7,428.0 528.8,429.0 528.6,431.0 528.1,432.0 527.4,433.0 526.0,434.2 524.0,434.9 522.0,434.8 519.9,434.0 518.8,433.0 518.1,432.0 517.4,430.0 517.5,428.0 517.8,427.0 519.0,425.2ZM61.3,426.0 63.0,425.5 64.0,425.4 65.0,425.5 66.8,426.0 68.0,426.7 69.0,427.5 70.8,430.0 72.1,433.0 75.5,444.0 76.2,448.0 76.1,451.0 75.5,454.0 74.4,457.0 72.8,460.0 67.2,469.0 65.9,472.0 63.6,478.0 62.0,481.0 60.0,483.3 58.0,484.7 56.0,485.4 53.0,485.6 51.0,485.2 50.0,484.8 48.0,483.3 46.9,482.0 46.0,480.4 45.5,479.0 45.3,477.0 45.4,475.0 46.3,472.0 47.2,470.0 50.1,465.0 51.0,463.0 51.6,461.0 52.1,458.0 52.6,451.0 53.2,447.0 56.7,432.0 57.5,430.0 58.7,428.0 60.0,426.8ZM124.7,430.0 127.0,429.5 129.0,429.4 131.0,429.6 132.7,430.0 134.0,430.5 136.0,431.6 137.6,433.0 138.3,434.0 139.0,435.4 139.5,437.0 139.6,439.0 139.2,441.0 138.4,443.0 137.8,444.0 136.9,445.0 135.0,446.5 133.0,447.5 131.0,448.0 128.0,448.2 126.0,447.9 124.0,447.3 122.0,446.1 120.8,445.0 119.4,443.0 118.5,441.0 118.2,439.0 118.3,437.0 118.9,435.0 120.0,433.2 121.2,432.0 123.0,430.7ZM439.3,430.0 443.0,429.3 446.0,429.1 450.0,429.6 453.0,430.5 455.0,431.4 458.0,433.3 464.9,439.0 467.0,440.5 470.0,442.2 472.0,443.0 474.0,443.4 476.0,443.3 485.0,441.6 490.0,441.4 492.0,441.6 494.0,442.2 497.0,443.6 499.1,445.0 501.6,447.0 503.3,449.0 504.8,452.0 505.6,455.0 505.9,458.0 505.7,460.0 504.1,466.0 503.7,469.0 504.0,472.0 505.0,475.0 507.1,479.0 508.5,481.0 510.0,482.7 512.0,484.2 513.0,484.6 515.0,485.1 517.0,485.1 518.0,484.9 519.6,484.0 520.5,483.0 521.0,482.0 521.7,480.0 523.7,469.0 524.5,466.0 525.0,464.9 526.0,463.5 527.0,462.6 529.0,461.5 531.0,460.8 533.0,460.4 539.0,460.1 543.0,459.5 548.0,458.3 557.0,455.3 560.0,454.2 563.0,452.6 565.0,451.2 570.1,447.0 573.0,445.2 576.0,444.0 579.0,443.3 581.0,443.1 583.0,443.3 585.0,443.8 587.4,445.0 589.0,446.5 589.9,448.0 590.2,449.0 590.2,451.0 589.6,453.0 588.0,455.3 585.2,458.0 580.0,461.9 578.5,464.0 577.7,467.0 577.4,474.0 577.2,476.0 576.5,478.0 575.9,479.0 575.0,480.1 573.0,481.9 565.4,488.0 562.0,490.5 560.0,491.6 558.0,492.2 555.0,492.5 550.0,492.4 547.5,492.0 546.0,491.4 545.0,490.7 541.3,487.0 538.8,485.0 536.0,483.7 534.0,483.4 532.0,483.8 530.0,484.9 522.9,490.0 519.5,492.0 516.2,493.0 514.0,492.9 512.2,492.0 509.2,489.0 508.0,488.2 506.0,487.3 500.0,485.2 497.5,484.0 495.9,483.0 494.0,481.0 492.0,477.0 490.7,475.0 489.0,473.3 487.0,472.0 483.0,469.8 479.0,468.3 476.0,467.5 473.0,467.4 471.0,467.9 468.0,469.4 466.0,471.0 464.4,473.0 463.6,475.0 463.3,478.0 463.7,481.0 464.7,484.0 466.0,486.4 468.0,489.0 471.0,491.9 473.0,493.5 474.0,493.9 476.0,494.2 481.0,493.1 483.0,492.9 485.0,493.2 487.2,494.0 488.4,495.0 489.0,496.0 489.3,497.0 489.2,499.0 488.2,501.0 486.1,503.0 483.0,505.0 480.0,506.3 477.0,506.9 464.0,506.9 445.0,505.6 443.0,505.3 441.0,504.6 439.0,503.5 437.0,502.0 434.0,499.3 431.8,497.0 430.2,495.0 429.2,493.0 428.6,491.0 428.3,488.0 428.8,477.0 428.6,472.0 428.0,468.0 425.5,457.0 424.8,452.0 424.9,448.0 425.6,444.0 426.5,441.0 428.5,437.0 431.0,434.0 433.0,432.5 435.0,431.5ZM388.4,432.0 391.0,431.7 393.0,431.9 396.0,433.0 398.0,434.4 399.5,436.0 400.7,438.0 401.6,441.0 402.0,443.6 401.9,446.0 401.3,448.0 400.8,449.0 398.6,452.0 393.8,457.0 392.5,459.0 392.1,461.0 392.5,464.0 392.5,466.0 392.2,467.0 391.6,468.0 390.0,469.1 388.0,469.4 387.0,469.1 386.0,468.7 383.0,466.6 382.0,466.4 380.0,466.3 377.0,467.1 370.0,470.1 367.0,470.8 364.0,471.1 361.0,470.7 359.5,470.0 358.1,469.0 356.5,467.0 355.8,465.0 355.8,463.0 356.1,462.0 356.7,461.0 357.7,460.0 359.0,459.2 364.0,457.3 366.0,456.2 370.0,453.1 372.1,451.0 373.5,449.0 378.0,440.2 380.0,436.9 381.0,435.9 383.0,434.4 386.0,432.8ZM105.7,455.0 109.0,454.3 112.0,454.2 115.0,454.7 117.0,455.4 119.0,456.6 121.0,458.5 122.8,461.0 124.2,464.0 125.0,467.0 125.3,470.0 125.1,473.0 124.3,476.0 122.7,479.0 121.0,480.8 119.0,482.2 116.0,483.6 113.0,484.4 110.0,484.6 107.0,484.3 104.0,483.4 101.0,481.6 99.0,479.8 96.9,477.0 95.6,474.0 95.0,471.0 95.0,468.0 95.6,465.0 96.4,463.0 98.0,460.4 100.0,458.2 103.0,456.1ZM138.3,480.0 141.0,480.1 143.0,480.7 145.0,481.9 146.2,483.0 147.6,485.0 148.3,487.0 148.7,490.0 148.4,493.0 147.6,496.0 146.0,499.5 144.0,502.6 142.0,504.8 140.0,506.3 138.0,507.3 136.0,507.9 133.0,507.9 131.0,507.3 130.0,506.8 128.0,505.2 127.0,504.0 126.0,502.0 125.4,500.0 125.2,498.0 125.5,495.0 126.2,492.0 127.3,489.0 128.3,487.0 130.0,484.6 132.0,482.6 134.0,481.3 136.0,480.5ZM397.0,494.0 398.0,493.8 400.0,493.9 402.0,494.7 403.0,495.5 404.0,496.8 404.8,499.0 404.8,501.0 404.0,503.2 402.4,505.0 401.0,505.8 400.0,506.1 398.0,506.2 396.0,505.6 395.0,505.0 394.0,504.1 392.8,502.0 392.6,501.0 392.6,499.0 393.2,497.0 393.9,496.0 395.0,495.0ZM80.8,499.0 82.0,498.6 84.0,498.3 86.0,498.5 88.0,499.1 90.0,500.2 92.0,501.8 95.8,506.0 99.3,511.0 100.3,513.0 100.8,515.0 100.8,517.0 100.6,518.0 99.5,520.0 98.5,521.0 96.9,522.0 94.0,522.9 91.0,523.3 87.0,523.1 84.0,522.6 81.0,521.5 79.0,520.2 77.0,518.3 75.6,516.0 74.6,513.0 74.4,510.0 74.7,507.0 75.7,504.0 77.0,502.0 79.0,500.0ZM306.7,508.0 313.0,507.6 316.0,507.9 317.0,508.3 318.0,509.0 318.6,510.0 318.9,511.0 319.2,515.0 319.1,532.0 318.8,534.0 318.4,535.0 317.5,536.0 316.0,536.8 313.0,537.2 306.0,537.2 303.0,536.9 301.0,536.3 299.0,535.0 298.0,534.1 295.0,530.7 292.0,526.8 290.7,524.0 290.2,521.0 290.4,514.0 290.9,512.0 292.0,510.3 293.0,509.6 295.0,508.9Z"/>
<path fill-rule="evenodd" fill="#377b95" d="M156.0,276.0 159.0,275.8 161.0,276.1 163.0,276.5 165.0,277.3 167.0,278.4 170.0,281.0 172.3,284.0 174.3,288.0 175.7,293.0 177.2,302.0 178.3,305.0 180.0,307.9 182.0,310.5 183.0,311.2 184.0,311.6 185.0,311.6 190.0,310.5 191.0,310.7 191.6,311.0 192.4,312.0 193.5,316.0 194.0,317.0 195.0,317.5 196.0,317.4 198.0,316.3 207.0,308.0 209.8,306.0 213.3,304.0 219.0,301.8 230.0,298.7 237.9,296.0 242.0,295.0 246.0,294.3 249.0,294.3 254.0,295.3 258.0,296.6 260.0,298.0 261.0,299.3 261.8,301.0 263.7,309.0 264.8,312.0 266.0,313.9 267.0,315.1 268.0,315.8 269.0,316.2 270.0,316.2 271.0,315.8 271.9,315.0 275.4,311.0 278.0,308.9 280.0,307.8 283.0,306.7 286.0,306.2 288.0,306.4 290.0,307.3 291.6,309.0 293.4,312.0 294.1,314.0 294.6,316.0 294.7,319.0 294.2,325.0 294.6,328.0 295.8,331.0 300.0,338.0 301.9,342.0 302.7,345.0 302.6,347.0 302.3,348.0 301.0,350.0 300.0,351.0 298.0,352.3 296.0,353.1 293.0,353.6 289.0,353.7 286.0,353.4 282.0,352.5 280.0,352.4 278.0,352.9 277.0,353.4 276.0,354.3 274.9,356.0 274.3,358.0 274.1,360.0 274.3,363.0 274.8,365.0 275.7,367.0 279.0,372.0 279.9,374.0 280.5,377.0 280.3,379.0 280.0,380.0 279.0,381.8 278.0,383.0 276.0,384.9 274.0,386.5 271.0,388.1 263.0,390.8 260.3,392.0 259.0,392.9 258.1,394.0 257.6,395.0 257.4,396.0 257.4,397.0 257.8,398.0 258.5,399.0 260.0,400.4 262.4,402.0 265.0,403.4 272.0,406.0 274.2,407.0 275.6,408.0 276.6,409.0 277.4,410.0 278.4,412.0 279.1,414.0 279.3,416.0 279.2,418.0 278.1,423.0 277.9,425.0 278.3,431.0 278.2,433.0 277.6,435.0 277.0,436.2 275.7,438.0 274.0,439.6 272.0,440.7 270.0,441.3 268.0,441.5 265.0,441.0 263.0,440.4 261.0,439.5 253.0,434.4 250.0,432.9 247.0,432.2 239.0,431.1 234.0,429.7 232.0,428.8 230.0,427.5 228.3,426.0 227.5,425.0 225.9,422.0 224.3,417.0 223.0,415.2 222.0,414.5 221.0,414.1 219.0,413.7 211.0,414.1 206.0,413.6 204.0,413.0 203.0,412.5 202.0,411.8 201.0,410.7 200.2,409.0 200.0,407.0 200.6,405.0 201.3,404.0 203.0,402.5 211.0,398.9 214.0,397.2 216.0,395.7 217.7,394.0 219.1,392.0 220.8,389.0 221.9,386.0 222.4,382.0 222.3,377.0 221.8,373.0 220.4,367.0 219.2,363.0 217.8,360.0 216.0,357.3 214.0,355.5 213.0,354.9 211.0,354.2 210.0,354.0 208.0,354.1 205.0,355.1 203.3,356.0 202.0,357.0 201.4,358.0 201.1,359.0 201.1,364.0 200.8,367.0 200.2,369.0 199.3,371.0 198.0,373.0 196.0,375.3 193.8,377.0 191.0,378.5 188.0,379.5 185.0,379.8 182.0,379.8 179.0,379.3 177.0,378.6 174.2,377.0 172.0,375.0 170.4,373.0 169.3,371.0 168.5,369.0 167.7,365.0 167.7,363.0 167.9,361.0 168.9,358.0 170.1,356.0 172.0,353.3 174.0,351.0 176.0,349.1 177.0,348.4 179.0,347.4 184.4,346.0 185.3,345.0 185.3,344.0 185.0,343.0 183.9,341.0 183.0,340.1 182.0,339.5 181.0,339.4 180.0,339.7 176.0,342.0 174.0,342.7 172.0,342.8 166.0,342.9 162.0,342.6 158.0,341.8 155.0,340.7 152.0,338.9 150.0,337.0 148.4,335.0 146.4,331.0 145.4,328.0 144.0,321.5 143.0,318.0 139.7,310.0 138.7,307.0 138.2,305.0 137.9,300.0 138.0,297.0 138.3,294.0 139.4,290.0 141.3,286.0 142.7,284.0 144.4,282.0 146.0,280.6 148.0,279.1 150.0,277.9 152.0,277.0 154.0,276.4ZM341.8,309.0 344.0,308.7 347.0,309.2 350.0,310.4 352.0,311.9 353.5,314.0 354.2,316.0 354.8,319.0 354.8,321.0 354.1,324.0 351.6,329.0 350.5,332.0 350.3,335.0 351.2,342.0 351.3,344.0 350.7,347.0 349.3,350.0 348.0,352.0 346.0,353.9 344.0,355.0 338.7,357.0 336.0,358.3 333.8,360.0 333.0,361.0 332.6,362.0 332.4,363.0 332.7,365.0 333.1,366.0 334.4,368.0 336.0,369.7 337.0,370.5 341.0,372.5 343.2,374.0 344.2,375.0 345.5,377.0 346.4,380.0 346.5,382.0 346.1,384.0 345.2,386.0 343.7,388.0 342.0,389.4 340.0,390.4 338.0,390.8 336.0,390.9 334.0,390.5 332.0,389.6 330.0,388.2 327.0,385.4 325.0,384.1 323.0,383.2 316.0,380.9 313.0,379.2 311.0,377.5 309.1,375.0 308.3,373.0 308.0,371.0 308.3,369.0 309.3,366.0 313.3,357.0 314.4,354.0 314.7,351.0 313.9,345.0 313.8,343.0 314.3,340.0 315.6,337.0 317.0,335.1 318.2,334.0 320.0,332.8 325.0,330.4 326.8,329.0 327.8,328.0 329.3,326.0 331.8,322.0 336.5,313.0 338.0,311.2 339.0,310.4 340.0,309.8ZM409.5,404.0 411.0,403.8 412.0,403.9 414.0,404.7 415.4,406.0 416.1,407.0 416.4,408.0 416.5,410.0 415.8,412.0 415.0,413.0 414.0,413.8 413.0,414.3 411.0,414.7 409.0,414.3 408.0,413.8 407.0,413.0 406.2,412.0 405.8,411.0 405.5,409.0 405.9,407.0 406.6,406.0 407.5,405.0ZM440.6,433.0 444.0,432.6 448.0,432.8 452.0,433.8 456.0,435.9 461.0,439.7 465.5,444.0 467.4,447.0 467.8,448.0 468.1,450.0 467.7,454.0 466.5,458.0 465.0,461.0 462.8,464.0 460.9,466.0 458.0,468.4 454.0,470.7 446.7,474.0 446.3,475.0 451.0,479.6 452.7,482.0 453.7,484.0 454.2,486.0 454.4,489.0 454.0,491.0 453.3,493.0 452.0,495.0 451.1,496.0 449.9,497.0 448.0,498.1 445.0,498.9 443.0,498.9 441.0,498.5 438.0,496.9 436.0,495.2 435.0,494.0 434.0,492.5 433.4,491.0 433.0,489.0 433.0,486.4 433.5,484.0 434.3,482.0 435.5,480.0 437.0,478.4 441.7,475.0 441.8,474.0 440.5,473.0 435.0,469.7 433.0,467.8 432.0,466.5 430.6,464.0 429.4,461.0 428.4,457.0 427.8,453.0 427.8,449.0 428.4,445.0 429.3,442.0 431.0,438.6 433.0,436.2 435.0,434.8 438.0,433.6ZM62.5,445.0 64.0,444.1 65.0,444.0 66.0,444.4 67.0,445.1 68.0,446.6 68.6,449.0 68.6,450.0 68.2,452.0 67.2,454.0 66.0,455.3 65.0,455.9 64.0,456.2 63.0,456.2 62.5,456.0 62.0,455.7 61.4,455.0 60.8,454.0 60.3,452.0 60.3,450.0 60.7,448.0 61.7,446.0ZM488.4,446.0 490.0,445.8 492.0,446.0 494.0,446.6 496.0,447.5 498.0,449.0 499.0,450.0 500.4,452.0 501.2,454.0 501.5,456.0 501.5,458.0 501.0,460.3 500.0,462.5 499.0,464.0 497.0,465.9 496.0,466.5 494.0,467.2 492.0,467.4 490.0,467.2 488.0,466.6 485.0,465.1 483.4,464.0 481.6,462.0 480.5,460.0 480.2,459.0 479.9,456.0 480.1,454.0 480.7,452.0 481.8,450.0 483.0,448.6 485.0,447.2 487.0,446.3ZM170.6,447.0 173.0,447.0 176.0,447.6 178.0,448.5 180.0,449.9 181.2,451.0 182.5,453.0 183.1,455.0 183.3,457.0 183.0,459.0 182.2,461.0 180.8,463.0 178.5,465.0 176.0,466.5 174.0,467.4 172.0,467.8 169.0,468.0 167.0,467.7 165.0,467.2 162.5,466.0 161.4,465.0 160.9,464.0 160.5,462.0 160.9,460.0 162.1,457.0 166.0,450.4 167.0,449.0 168.0,448.0 169.0,447.4ZM280.2,450.0 282.0,449.4 283.0,449.3 285.0,449.5 287.0,450.1 289.0,451.1 291.4,453.0 296.7,459.0 298.9,461.0 302.0,463.0 307.0,465.8 309.8,468.0 311.0,469.3 312.1,471.0 313.3,474.0 313.5,476.0 313.4,477.0 312.7,479.0 311.9,480.0 310.0,481.4 309.0,481.7 307.0,482.1 304.0,481.8 301.0,480.9 299.0,479.9 296.3,478.0 292.0,473.4 291.0,472.6 289.0,471.5 284.0,469.8 282.0,468.9 280.0,467.6 278.1,466.0 276.4,464.0 274.8,461.0 274.4,459.0 274.5,457.0 275.2,455.0 276.4,453.0 278.0,451.3ZM109.1,459.0 111.0,459.0 113.0,459.3 115.0,460.2 117.0,461.6 118.3,463.0 119.5,465.0 120.2,467.0 120.5,469.0 120.5,471.0 120.0,473.0 119.1,475.0 118.0,476.4 116.3,478.0 115.0,478.8 113.0,479.6 111.0,480.0 109.0,480.0 107.0,479.6 105.0,478.7 103.0,477.3 101.7,476.0 100.5,474.0 99.8,472.0 99.5,470.0 99.6,468.0 100.1,466.0 101.1,464.0 102.0,462.7 103.0,461.7 105.0,460.2 107.0,459.4ZM537.4,474.0 539.0,473.3 540.0,473.3 541.0,473.4 542.0,473.8 543.0,474.6 543.9,476.0 544.2,477.0 544.2,478.0 544.0,479.0 543.4,480.0 542.0,480.8 541.0,480.9 539.0,480.4 538.0,479.9 536.7,479.0 536.0,478.0 535.7,477.0 535.9,476.0 536.4,475.0Z"/>
<path fill-rule="evenodd" fill="#4589a1" d="M155.7,282.0 159.0,281.9 161.0,282.3 163.0,283.1 165.7,285.0 168.0,287.7 169.3,290.0 170.4,293.0 171.3,297.0 172.1,303.0 173.0,306.0 174.9,309.0 180.0,315.7 181.0,316.8 184.3,319.0 185.3,320.0 185.8,321.0 186.2,323.0 186.5,329.0 187.0,330.1 188.0,330.5 190.0,330.4 191.0,329.9 192.0,328.9 193.1,327.0 194.7,325.0 199.0,321.0 206.8,313.0 212.0,309.0 215.1,307.0 217.1,306.0 219.7,305.0 223.0,304.1 225.0,303.9 227.0,304.0 230.0,305.0 239.0,310.0 241.0,310.7 242.0,310.8 244.0,310.3 245.0,309.6 249.0,306.0 251.0,304.7 252.0,304.4 253.0,304.6 253.5,305.0 254.1,306.0 254.3,308.0 253.6,312.0 253.4,317.0 251.9,324.0 251.5,331.0 251.9,335.0 253.8,343.0 256.0,349.9 257.3,353.0 258.4,355.0 260.0,357.4 262.1,360.0 264.0,361.9 267.0,364.5 268.4,366.0 272.5,373.0 273.0,374.0 273.2,375.0 273.0,376.0 272.4,377.0 271.0,378.2 269.0,379.1 262.0,380.8 259.0,382.1 257.0,383.7 250.0,390.3 248.0,391.7 246.0,392.8 244.0,393.6 242.0,393.9 240.0,393.8 237.0,393.0 235.1,392.0 234.0,391.0 232.6,389.0 231.7,387.0 230.8,384.0 229.1,374.0 226.3,363.0 224.6,355.0 223.8,353.0 223.0,352.0 222.0,351.1 220.0,350.1 217.0,349.3 212.0,348.6 201.0,347.6 199.0,347.2 197.0,346.4 194.0,344.3 192.0,342.3 188.1,337.0 186.0,333.1 185.2,332.0 184.0,331.6 182.0,331.8 181.0,332.2 179.0,333.6 176.0,336.4 174.0,337.8 172.0,338.7 169.0,339.6 165.0,339.8 162.0,339.4 159.0,338.4 156.0,336.6 154.2,335.0 152.5,333.0 151.3,331.0 150.4,329.0 149.4,325.0 148.1,317.0 147.1,314.0 144.7,309.0 143.6,306.0 142.7,302.0 142.5,299.0 142.7,296.0 143.5,293.0 144.8,290.0 146.1,288.0 148.0,285.9 150.0,284.3 153.0,282.7ZM282.9,313.0 284.0,313.0 285.0,313.2 286.0,313.7 287.0,314.7 287.7,316.0 288.0,317.0 288.0,319.0 287.4,321.0 286.0,322.7 285.0,323.3 284.0,323.7 282.0,323.8 280.0,323.3 278.4,322.0 277.7,321.0 277.4,320.0 277.4,319.0 277.9,317.0 279.2,315.0 281.0,313.6ZM332.1,338.0 335.0,337.8 338.0,338.5 340.4,340.0 341.9,342.0 342.5,344.0 342.3,346.0 341.2,348.0 340.3,349.0 339.0,349.9 336.0,351.0 334.0,351.2 332.0,351.0 330.0,350.3 329.0,349.7 328.0,348.9 326.6,347.0 326.2,346.0 326.0,344.0 326.2,343.0 327.0,341.3 328.0,340.1 329.0,339.3 330.0,338.7ZM179.6,352.0 182.0,351.3 184.0,351.0 187.0,351.2 189.0,351.7 191.0,352.5 193.0,353.9 194.8,356.0 195.9,358.0 196.6,360.0 197.1,363.0 196.9,366.0 196.4,368.0 194.8,371.0 193.1,373.0 191.0,374.6 189.0,375.6 186.0,376.3 184.0,376.4 182.0,376.2 179.0,375.2 177.0,374.0 175.0,372.3 173.4,370.0 172.4,368.0 171.8,365.0 171.7,363.0 172.0,361.0 172.6,359.0 173.7,357.0 175.2,355.0 177.0,353.4ZM241.5,401.0 244.0,400.2 246.0,400.0 249.0,400.2 252.0,401.0 255.0,402.3 262.0,406.7 267.0,409.1 269.0,410.4 270.0,411.6 270.5,413.0 270.4,416.0 269.7,419.0 268.7,422.0 267.8,424.0 267.0,425.2 266.0,426.1 265.0,426.7 264.0,427.0 262.0,427.4 259.0,427.3 247.0,426.3 244.0,425.7 241.0,424.7 238.3,423.0 236.0,421.1 234.3,419.0 233.7,418.0 233.0,416.0 232.7,413.0 233.3,410.0 234.5,407.0 235.8,405.0 236.7,404.0 239.0,402.2ZM440.8,435.0 444.0,434.6 447.0,434.7 450.0,435.3 453.0,436.5 456.0,438.3 459.3,441.0 461.8,444.0 462.8,446.0 463.4,449.0 463.3,452.0 462.6,455.0 461.3,458.0 459.3,461.0 457.0,463.3 454.0,465.4 451.0,466.7 448.0,467.4 445.0,467.6 442.0,467.2 439.0,466.3 436.0,464.8 434.0,463.2 432.0,460.5 430.9,458.0 429.9,454.0 429.7,450.0 430.2,446.0 431.4,442.0 433.0,439.2 435.0,437.2 438.0,435.7ZM489.1,452.0 491.0,451.5 493.0,451.8 494.7,453.0 495.4,454.0 496.0,456.0 495.7,458.0 495.1,459.0 494.2,460.0 493.0,460.7 491.0,461.0 489.0,460.4 488.0,459.7 486.8,458.0 486.5,456.0 487.0,454.1 488.0,452.8ZM169.7,454.0 171.0,453.7 172.0,453.6 174.0,454.0 176.0,455.3 177.3,457.0 177.9,459.0 177.7,460.0 177.4,461.0 176.0,462.7 174.0,464.0 171.0,464.8 169.0,464.6 167.0,463.8 166.1,463.0 165.5,462.0 165.3,460.0 166.0,457.6 167.0,456.0 168.0,455.0ZM282.1,456.0 284.0,455.7 286.0,456.3 287.1,457.0 288.9,459.0 289.8,461.0 290.0,463.0 289.6,464.0 288.7,465.0 287.0,465.6 286.0,465.7 284.0,465.5 282.0,464.5 280.5,463.0 279.9,462.0 279.6,461.0 279.6,459.0 279.9,458.0 280.6,457.0ZM108.2,463.0 110.0,462.7 111.0,462.8 112.0,463.0 113.9,464.0 115.0,464.9 115.8,466.0 116.6,468.0 116.7,470.0 116.6,471.0 115.8,473.0 115.1,474.0 114.0,475.0 112.0,476.0 111.0,476.2 109.0,476.2 107.0,475.5 106.0,474.9 105.0,474.0 104.0,472.5 103.4,471.0 103.3,470.0 103.4,468.0 104.2,466.0 105.0,465.0 106.0,464.1ZM299.3,469.0 301.0,469.0 302.0,469.3 303.7,470.0 305.0,471.0 306.0,472.2 306.7,474.0 306.6,475.0 306.0,476.0 305.0,476.6 304.0,476.8 303.0,476.7 301.0,476.0 299.6,475.0 298.3,473.0 297.8,471.0 298.0,469.9 299.0,469.1ZM442.2,484.0 444.0,483.9 445.0,484.2 446.2,485.0 447.0,486.0 447.3,487.0 447.4,489.0 447.0,490.1 446.0,491.3 445.0,491.9 444.0,492.2 442.0,492.1 441.0,491.6 440.0,490.6 439.2,489.0 439.1,488.0 439.3,487.0 439.7,486.0 441.0,484.6Z"/>
<path fill-rule="evenodd" fill="#5b9fb0" d="M154.2,286.0 157.0,285.5 160.0,285.9 162.0,286.7 163.0,287.4 164.0,288.2 165.5,290.0 166.7,292.0 167.8,295.0 168.4,298.0 169.0,304.0 169.9,307.0 171.1,309.0 175.0,313.5 176.9,316.0 179.8,321.0 180.8,323.0 181.1,325.0 180.9,326.0 180.6,327.0 179.9,328.0 176.6,332.0 174.7,334.0 173.0,335.3 170.0,336.7 167.0,337.3 164.0,337.3 161.0,336.5 159.0,335.5 156.9,334.0 155.0,332.0 153.7,330.0 152.5,327.0 151.9,324.0 151.4,318.0 150.9,315.0 150.2,313.0 147.7,308.0 146.4,305.0 145.7,302.0 145.5,299.0 145.6,297.0 146.1,295.0 146.8,293.0 147.9,291.0 149.5,289.0 151.0,287.7 153.0,286.5ZM216.9,314.0 220.0,314.2 227.0,315.4 231.0,316.7 235.0,318.3 237.0,319.5 241.0,322.9 242.0,324.1 242.9,326.0 244.1,330.0 244.5,332.0 244.4,337.0 244.7,339.0 245.8,342.0 248.3,347.0 249.5,350.0 252.4,359.0 253.3,363.0 253.5,365.0 252.9,368.0 251.9,370.0 249.0,373.3 245.4,377.0 243.0,379.2 241.0,380.8 240.0,381.0 239.0,380.4 238.3,379.0 235.8,370.0 233.2,358.0 231.4,351.0 230.7,349.0 230.0,348.3 228.0,347.5 204.0,343.4 198.0,342.6 196.0,341.9 195.0,341.0 194.5,340.0 194.4,339.0 195.1,337.0 199.0,331.0 201.3,326.0 203.7,322.0 206.6,318.0 209.0,315.8 211.0,314.7 213.0,314.3ZM181.2,354.0 183.0,353.6 185.0,353.5 187.0,353.8 189.0,354.5 191.0,355.8 192.0,356.8 193.0,358.1 194.0,360.0 194.5,362.0 194.7,364.0 194.4,366.0 193.7,368.0 192.5,370.0 191.7,371.0 190.0,372.3 188.0,373.4 186.0,373.9 184.0,374.0 182.0,373.7 180.0,373.0 178.3,372.0 177.0,370.9 175.6,369.0 174.7,367.0 174.2,365.0 174.2,363.0 174.5,361.0 175.3,359.0 176.7,357.0 178.0,355.7 180.0,354.5ZM242.7,405.0 244.0,404.5 246.0,404.1 248.0,404.1 250.0,404.5 252.0,405.2 253.5,406.0 254.8,407.0 256.4,409.0 256.9,410.0 257.4,412.0 257.3,415.0 256.7,417.0 256.0,418.3 254.6,420.0 253.4,421.0 252.0,421.6 250.0,422.2 247.0,422.2 245.0,421.9 243.0,421.1 241.2,420.0 240.1,419.0 239.0,417.6 238.1,416.0 237.8,415.0 237.6,413.0 237.9,411.0 238.6,409.0 240.0,407.0 241.1,406.0ZM439.4,437.0 442.0,436.4 445.0,436.2 448.0,436.5 451.0,437.4 454.0,438.9 456.8,441.0 458.7,443.0 459.8,445.0 460.5,447.0 460.8,450.0 460.4,453.0 459.4,456.0 458.0,458.4 456.0,460.7 454.0,462.3 452.0,463.4 449.0,464.5 447.0,464.8 444.0,464.8 441.0,464.2 438.0,462.9 436.0,461.5 434.0,459.4 432.6,457.0 431.6,454.0 431.3,451.0 431.6,447.0 432.4,444.0 433.8,441.0 435.0,439.5 437.0,438.0ZM109.8,469.0 110.2,469.0 110.2,470.0 110.0,470.1 109.8,470.0Z"/>
<path fill-rule="evenodd" fill="#70b2bb" d="M154.5,289.0 157.0,288.5 159.0,288.8 160.0,289.1 161.5,290.0 163.5,292.0 164.7,294.0 165.6,297.0 166.0,300.0 166.3,305.0 166.7,307.0 167.1,308.0 168.5,310.0 172.6,314.0 174.4,316.0 176.2,319.0 177.4,322.0 177.7,324.0 177.6,326.0 176.2,329.0 174.8,331.0 173.0,332.8 171.0,334.1 169.0,334.9 167.0,335.3 164.0,335.2 162.0,334.7 160.0,333.8 158.0,332.3 156.8,331.0 155.5,329.0 154.6,327.0 154.1,325.0 153.9,323.0 153.8,316.0 153.6,314.0 152.5,311.0 150.1,307.0 149.0,304.6 148.2,302.0 148.0,299.0 148.4,296.0 149.7,293.0 151.0,291.3 152.0,290.4 153.0,289.7ZM210.6,318.0 213.0,317.6 216.0,317.3 219.0,317.6 225.0,318.6 228.0,319.6 233.0,321.5 235.0,322.7 237.8,325.0 239.0,326.3 239.9,328.0 241.1,332.0 241.3,334.0 240.4,339.0 239.3,341.0 238.0,342.7 237.0,343.6 235.0,344.4 232.0,344.9 229.0,344.8 221.0,343.8 201.0,339.6 200.0,339.3 199.0,338.8 198.3,338.0 198.2,337.0 198.5,336.0 200.9,332.0 203.7,326.0 206.0,322.3 208.0,319.6 209.0,318.7ZM241.4,355.0 242.0,354.6 243.0,354.8 244.0,355.9 244.5,357.0 244.8,359.0 244.7,362.0 244.3,364.0 243.7,365.0 243.0,365.7 242.0,365.9 241.0,365.2 240.4,364.0 239.8,361.0 239.8,359.0 240.2,357.0 240.6,356.0ZM181.5,356.0 183.0,355.6 185.0,355.5 187.0,355.9 188.0,356.3 189.2,357.0 190.4,358.0 191.2,359.0 192.2,361.0 192.5,362.0 192.7,364.0 192.4,366.0 192.0,367.1 191.0,368.8 190.0,369.9 188.4,371.0 187.0,371.6 186.0,371.9 184.0,372.0 182.0,371.7 180.4,371.0 179.0,370.0 178.0,369.0 177.0,367.5 176.4,366.0 176.2,365.0 176.1,363.0 176.6,361.0 177.0,360.0 178.0,358.5 179.0,357.5 180.0,356.7ZM244.9,410.0 246.0,409.4 247.0,409.2 248.0,409.2 249.7,410.0 250.6,411.0 251.0,412.0 251.1,413.0 251.0,414.0 250.6,415.0 249.7,416.0 248.0,416.8 247.0,416.8 246.0,416.6 245.0,416.1 244.0,415.0 243.6,414.0 243.5,413.0 243.6,412.0 244.0,411.0ZM441.2,438.0 444.0,437.6 446.0,437.6 449.0,438.2 451.3,439.0 454.0,440.6 455.7,442.0 457.2,444.0 458.2,446.0 458.6,448.0 458.7,451.0 458.0,454.0 457.1,456.0 455.7,458.0 454.0,459.7 452.0,461.1 450.0,462.0 448.0,462.6 445.0,462.8 442.0,462.4 440.0,461.6 438.0,460.5 436.0,458.8 434.6,457.0 433.6,455.0 433.1,453.0 432.8,450.0 433.1,447.0 434.0,444.0 435.1,442.0 436.9,440.0 439.0,438.7Z"/>
<path fill-rule="evenodd" fill="#87c3c5" d="M154.9,292.0 157.0,291.6 159.0,292.0 160.6,293.0 161.6,294.0 162.7,296.0 163.4,299.0 163.5,301.0 163.3,307.0 163.9,309.0 164.6,310.0 165.7,311.0 170.0,314.2 172.0,316.0 173.6,318.0 175.0,321.0 175.5,323.0 175.5,325.0 175.3,326.0 174.6,328.0 173.2,330.0 172.3,331.0 171.0,332.0 169.0,333.0 167.0,333.5 165.0,333.5 162.0,332.8 160.6,332.0 159.0,330.8 157.6,329.0 156.5,327.0 155.9,325.0 155.7,322.0 155.9,319.0 156.6,314.0 156.6,312.0 155.7,310.0 152.0,305.0 151.0,302.7 150.5,300.0 150.8,297.0 151.6,295.0 153.0,293.2ZM211.6,321.0 216.0,320.7 223.0,321.6 230.0,323.8 232.3,325.0 236.0,328.3 237.0,329.7 237.5,331.0 238.1,333.0 238.1,335.0 237.3,338.0 236.8,339.0 235.0,340.6 233.0,341.8 231.0,342.2 227.0,342.1 208.5,338.0 206.0,337.3 204.0,336.3 203.0,335.0 203.0,334.0 204.3,331.0 205.1,328.0 205.9,326.0 207.0,324.4 209.0,322.0 210.0,321.4ZM181.5,358.0 183.0,357.5 184.0,357.3 186.0,357.5 187.0,357.9 189.0,359.3 190.2,361.0 190.8,363.0 190.7,365.0 190.4,366.0 190.0,367.0 189.0,368.2 188.0,369.1 187.0,369.6 185.0,370.2 183.0,370.0 182.0,369.7 180.0,368.4 179.0,367.2 178.4,366.0 178.1,365.0 178.0,363.0 178.6,361.0 180.0,359.0ZM443.1,439.0 446.0,438.9 448.0,439.2 450.0,439.9 452.0,440.9 453.5,442.0 455.0,443.6 455.9,445.0 456.7,447.0 457.0,449.0 456.7,452.0 456.1,454.0 455.0,456.0 453.3,458.0 452.0,459.1 450.0,460.2 448.0,460.8 445.0,461.1 443.0,460.8 441.0,460.2 439.0,459.1 437.7,458.0 436.0,456.0 435.0,454.0 434.4,452.0 434.2,450.0 434.5,447.0 435.2,445.0 436.3,443.0 437.1,442.0 439.0,440.4 441.0,439.5Z"/>
<path fill-rule="evenodd" fill="#9dd3d1" d="M155.2,296.0 156.0,295.6 157.0,295.4 158.0,295.6 159.0,296.3 160.0,298.0 160.4,300.0 160.0,302.5 159.0,304.2 158.0,304.7 157.0,304.7 156.0,304.2 155.0,303.4 154.0,301.7 153.6,300.0 153.8,298.0 154.3,297.0ZM161.1,314.0 162.0,313.6 164.0,313.6 167.0,314.6 169.0,315.8 170.5,317.0 172.0,318.7 172.8,320.0 173.2,321.0 173.7,323.0 173.6,325.0 173.4,326.0 172.5,328.0 171.8,329.0 170.8,330.0 169.0,331.1 168.0,331.5 166.0,331.8 164.0,331.6 163.0,331.3 161.0,330.2 160.0,329.3 158.4,327.0 157.5,324.0 157.5,322.0 157.7,320.0 158.3,318.0 159.0,316.3 160.0,314.9ZM210.4,325.0 212.0,324.4 214.0,324.1 219.0,324.4 226.0,326.3 229.0,327.5 231.8,329.0 233.6,331.0 234.1,332.0 234.4,333.0 234.4,335.0 234.1,336.0 233.0,337.5 232.0,338.3 230.0,339.0 227.0,339.2 221.7,338.0 216.0,336.1 213.4,335.0 210.0,333.2 208.8,332.0 208.3,331.0 208.1,330.0 208.1,329.0 208.6,327.0 209.2,326.0ZM182.0,360.0 183.0,359.6 185.0,359.4 186.8,360.0 188.0,361.2 188.8,363.0 188.8,364.0 188.2,366.0 187.0,367.3 186.0,367.9 185.0,368.1 183.1,368.0 181.4,367.0 180.6,366.0 180.1,365.0 180.0,363.0 180.3,362.0 180.9,361.0ZM441.0,441.0 444.0,440.2 446.0,440.2 448.0,440.5 450.0,441.3 451.3,442.0 453.0,443.5 454.2,445.0 455.0,447.0 455.4,449.0 455.3,451.0 455.0,452.2 454.3,454.0 453.0,456.0 452.0,457.0 450.0,458.4 448.0,459.2 446.0,459.5 444.0,459.4 442.0,458.8 440.3,458.0 439.0,457.0 438.0,456.0 436.7,454.0 436.0,452.0 435.7,450.0 435.8,448.0 436.4,446.0 437.0,444.7 438.2,443.0 439.3,442.0Z"/>
<path fill-rule="evenodd" fill="#b8e1de" d="M162.1,317.0 163.0,316.6 164.0,316.4 165.0,316.4 167.0,316.9 169.0,318.1 170.0,319.0 171.0,320.4 171.6,322.0 171.9,323.0 171.8,325.0 171.0,327.1 170.0,328.3 169.0,329.1 167.0,329.9 165.0,330.0 164.0,329.8 162.0,328.7 160.4,327.0 159.5,325.0 159.3,324.0 159.3,322.0 159.8,320.0 160.3,319.0 161.0,317.9ZM223.2,330.0 224.0,329.6 226.0,329.3 227.0,329.4 228.6,330.0 229.8,331.0 230.3,332.0 230.3,333.0 230.0,334.0 229.0,335.1 227.0,336.0 225.0,336.0 223.0,335.2 221.9,334.0 221.6,333.0 221.7,332.0 222.0,331.3ZM183.5,363.0 184.0,362.6 185.0,362.7 185.3,363.0 185.6,364.0 185.0,364.8 184.0,365.0 183.2,364.0ZM442.5,442.0 444.0,441.6 446.0,441.6 448.0,441.9 449.0,442.3 450.2,443.0 451.5,444.0 453.0,446.1 453.6,448.0 453.8,449.0 453.7,451.0 453.4,452.0 452.5,454.0 451.8,455.0 450.8,456.0 449.0,457.1 448.0,457.5 446.0,457.9 444.0,457.8 443.0,457.5 441.8,457.0 440.0,455.8 439.0,454.7 437.9,453.0 437.6,452.0 437.2,450.0 437.4,448.0 438.0,446.1 439.0,444.5 440.0,443.5 441.0,442.7Z"/>
<path fill-rule="evenodd" fill="#d1ebe7" d="M164.6,319.0 166.0,319.0 168.0,320.0 169.0,321.1 169.7,323.0 169.8,324.0 169.6,325.0 169.2,326.0 168.3,327.0 167.0,327.7 166.0,327.9 165.0,327.8 164.0,327.5 163.0,326.9 162.2,326.0 161.7,325.0 161.4,323.0 161.9,321.0 163.0,319.7 164.0,319.1ZM442.0,444.0 444.0,443.2 445.0,443.1 447.0,443.2 449.0,444.0 450.2,445.0 451.1,446.0 451.9,448.0 452.1,449.0 452.0,451.0 451.0,453.3 450.0,454.5 449.0,455.2 447.0,456.1 445.0,456.2 444.0,456.1 443.0,455.7 441.6,455.0 440.5,454.0 439.8,453.0 439.0,451.0 438.9,449.0 439.1,448.0 440.0,445.9 441.0,444.7Z"/>
</g>
<rect x="556.9" y="218.2" width="25.8" height="17.3" fill="#2a5674" stroke="#3a3a3a" stroke-width="0.7"/>
<rect x="556.9" y="200.9" width="25.8" height="17.3" fill="#2f6783" stroke="#3a3a3a" stroke-width="0.7"/>
<rect x="556.9" y="183.6" width="25.8" height="17.3" fill="#377b95" stroke="#3a3a3a" stroke-width="0.7"/>
<rect x="556.9" y="166.3" width="25.8" height="17.3" fill="#4589a1" stroke="#3a3a3a" stroke-width="0.7"/>
<rect x="556.9" y="149.0" width="25.8" height="17.3" fill="#5b9fb0" stroke="#3a3a3a" stroke-width="0.7"/>
<rect x="556.9" y="131.7" width="25.8" height="17.3" fill="#70b2bb" stroke="#3a3a3a" stroke-width="0.7"/>
<rect x="556.9" y="114.4" width="25.8" height="17.3" fill="#87c3c5" stroke="#3a3a3a" stroke-width="0.7"/>
<rect x="556.9" y="97.1" width="25.8" height="17.3" fill="#9dd3d1" stroke="#3a3a3a" stroke-width="0.7"/>
<rect x="556.9" y="79.8" width="25.8" height="17.3" fill="#b8e1de" stroke="#3a3a3a" stroke-width="0.7"/>
<rect x="556.9" y="62.5" width="25.8" height="17.3" fill="#d1ebe7" stroke="#3a3a3a" stroke-width="0.7"/>
<text x="589" y="238.7" font-size="9" fill="#333">0</text>
<text x="589" y="221.4" font-size="9" fill="#333">10</text>
<text x="589" y="204.1" font-size="9" fill="#333">20</text>
<text x="589" y="186.8" font-size="9" fill="#333">30</text>
<text x="589" y="169.5" font-size="9" fill="#333">40</text>
<text x="589" y="152.2" font-size="9" fill="#333">50</text>
<text x="589" y="134.9" font-size="9" fill="#333">60</text>
<text x="589" y="117.6" font-size="9" fill="#333">70</text>
<text x="589" y="100.3" font-size="9" fill="#333">80</text>
<text x="589" y="83.0" font-size="9" fill="#333">90</text>
<text x="589" y="65.7" font-size="9" fill="#333">100</text>
<text x="557" y="49" font-size="12.5" fill="#333">Potential Intensity</text>
<text x="16" y="559.5" font-size="9.4" font-style="italic" fill="#222">© EuroGeographics for the administrative boundaries and © Eurostat for data</text>
</svg>
</body></html>
